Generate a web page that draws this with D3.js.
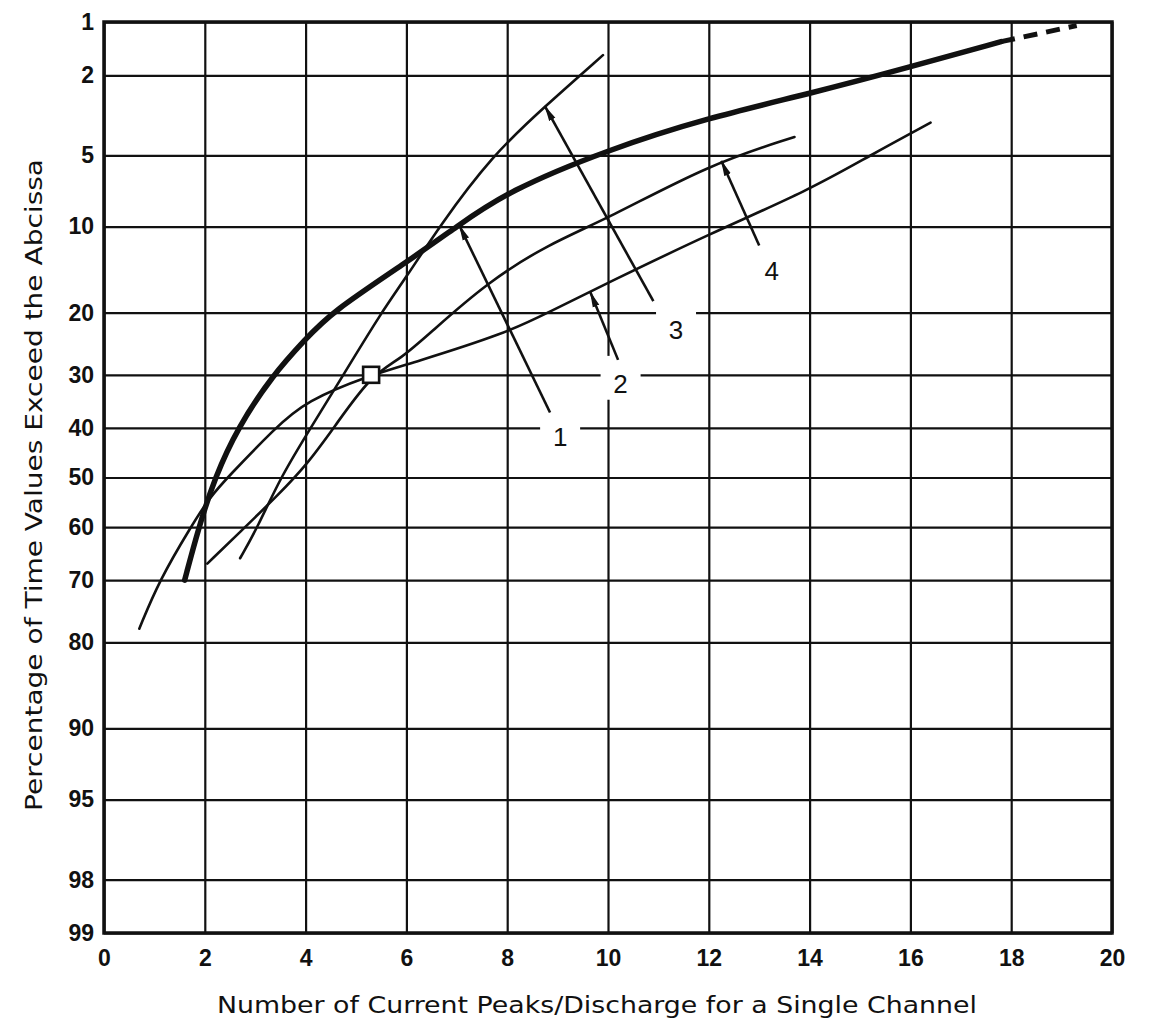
<!DOCTYPE html>
<html>
<head>
<meta charset="utf-8">
<script src="https://cdn.jsdelivr.net/npm/d3@7"></script>
<style>
  body { margin: 0; background: #fff; }
  svg { display: block; }
  .grid line { stroke: #111; stroke-width: 2.2; }
  .grid path { display: none; }
  .grid text { font-family: "Liberation Sans", Arial, sans-serif; font-weight: bold; font-size: 23px; fill: #111; }
  .axis-title { font-family: "DejaVu Sans", sans-serif; font-size: 23px; fill: #111; }
  .curve-label { font-family: "Liberation Sans", Arial, sans-serif; font-size: 26px; fill: #111; }
</style>
</head>
<body>
<div id="chart"></div>
<script>
// --- dati (x = picchi/scarica, p = % di tempo superata) ---
const xTicks = [0, 2, 4, 6, 8, 10, 12, 14, 16, 18, 20];
const pTicks = [1, 2, 5, 10, 20, 30, 40, 50, 60, 70, 80, 90, 95, 98, 99];

// curva 1 (spessa), con prolungamento tratteggiato
const curve1 = [[1.6, 70], [1.88, 60], [2.2, 50], [2.65, 40], [3.35, 30], [4, 24], [4.5, 20],
  [6, 13.6], [7, 10], [8, 7.2], [10, 4.7], [12, 3.3], [14, 2.5], [16, 1.8], [17.8, 1.3]];
const curve1Ext = [[17.8, 1.3], [19.3, 1.05]];
const curve2 = [[0.7, 78], [1.1, 70], [1.72, 60], [2.1, 54], [2.45, 50], [3.4, 40], [4, 34.8],
  [5.3, 30], [6.1, 28], [8, 23], [8.8, 20], [10, 16], [12, 10.7], [14, 7.1], [15.2, 5], [16.4, 3.5]];
const curve3 = [[2.7, 66], [3.05, 60], [3.5, 50], [4.1, 40], [4.75, 30], [5.5, 20], [6, 15.3],
  [6.65, 10], [7.7, 5], [8.75, 2.9], [9.9, 1.55]];
const curve4 = [[2.05, 67], [2.8, 60], [3.45, 53.6], [4, 47.7], [4.56, 40], [5.3, 30], [5.9, 27.2],
  [6.5, 22.8], [7.6, 16], [8.8, 11.7], [10, 9.3], [12, 5.5], [13.7, 4.1]];
const boxPoint = [5.3, 30];

// etichette numerate con freccia
const labelNames = ["1", "2", "3", "4"];
const labelPos = [[9.05, 41.8], [10.25, 31.6], [11.35, 22.6], [13.25, 14.6]];
const arrowTail = [[8.85, 37], [10.2, 27.4], [10.9, 18.4], [13.0, 11.8]];
const arrowHead = [[7.05, 9.9], [9.65, 17.2], [8.75, 2.9], [12.25, 5.3]];

const xTitle = "Number of Current Peaks/Discharge for a Single Channel";
const yTitle = "Percentage of Time Values Exceed the Abcissa";

// --- scala di probabilita' normale (inversa della normale, Acklam) ---
function probit(p) {
  const a = [-3.969683028665376e+01, 2.209460984245205e+02, -2.759285104469687e+02, 1.383577518672690e+02, -3.066479806614716e+01, 2.506628277459239e+00];
  const b = [-5.447609879822406e+01, 1.615858368580409e+02, -1.556989798598866e+02, 6.680131188771972e+01, -1.328068155288572e+01];
  const c = [-7.784894002430293e-03, -3.223964580411365e-01, -2.400758277161838e+00, -2.549732539343734e+00, 4.374664141464968e+00, 2.938163982698783e+00];
  const d = [7.784695709041462e-03, 3.224671290700398e-01, 2.445134137142996e+00, 3.754408661907416e+00];
  const pl = 0.02425;
  let q, r;
  if (p < pl) {
    q = Math.sqrt(-2 * Math.log(p));
    return (((((c[0]*q+c[1])*q+c[2])*q+c[3])*q+c[4])*q+c[5]) / ((((d[0]*q+d[1])*q+d[2])*q+d[3])*q+1);
  }
  if (p > 1 - pl) {
    q = Math.sqrt(-2 * Math.log(1 - p));
    return -(((((c[0]*q+c[1])*q+c[2])*q+c[3])*q+c[4])*q+c[5]) / ((((d[0]*q+d[1])*q+d[2])*q+d[3])*q+1);
  }
  q = p - 0.5; r = q * q;
  return (((((a[0]*r+a[1])*r+a[2])*r+a[3])*r+a[4])*r+a[5])*q / (((((b[0]*r+b[1])*r+b[2])*r+b[3])*r+b[4])*r+1);
}

const width = 1156, height = 1029;
const margin = { top: 22, right: 44, bottom: 96, left: 104 };
const innerW = width - margin.left - margin.right;
const innerH = height - margin.top - margin.bottom;

const svg = d3.select('#chart').append('svg')
  .attr('width', width).attr('height', height);
const g = svg.append('g').attr('transform', `translate(${margin.left},${margin.top})`);

const xScale = d3.scaleLinear().domain([0, 20]).range([0, innerW]);
const zScale = d3.scaleLinear().domain([probit(0.01), probit(0.99)]).range([0, innerH]);
const yOf = p => zScale(probit(p / 100));

// griglia + etichette degli assi
g.append('g').attr('class', 'grid')
  .attr('transform', `translate(0,${innerH})`)
  .call(d3.axisBottom(xScale).tickValues(xTicks).tickSizeInner(-innerH).tickSizeOuter(0).tickPadding(17));

g.append('g').attr('class', 'grid')
  .call(d3.axisLeft(zScale).tickValues(pTicks.map(p => probit(p / 100)))
    .tickFormat((d, i) => pTicks[i]).tickSizeInner(-innerW).tickSizeOuter(0).tickPadding(10));

// cornice
g.append('rect')
  .attr('width', innerW).attr('height', innerH)
  .attr('fill', 'none').attr('stroke', '#111').attr('stroke-width', 3.5);

// interruzioni bianche della griglia dietro le etichette
labelPos.forEach((lp, i) => {
  const lx = xScale(lp[0]), ly = yOf(lp[1]);
  const ty = yOf(arrowTail[i][1]);
  const top = Math.min(ty - 4, ly - 16);
  g.append('rect')
    .attr('x', lx - 20).attr('y', top)
    .attr('width', 40).attr('height', ly + 16 - top)
    .attr('fill', '#fff');
});

// curve lisciate (basis) per togliere le piccole ondulazioni della lettura
const line = d3.line()
  .x(d => xScale(d[0]))
  .y(d => yOf(d[1]))
  .curve(d3.curveBasis);

const thin = [curve2, curve3, curve4];
g.selectAll('.thin-curve').data(thin).enter()
  .append('path').attr('class', 'thin-curve')
  .attr('d', line)
  .attr('fill', 'none').attr('stroke', '#111')
  .attr('stroke-width', 2.6).attr('stroke-linecap', 'round');

g.append('path').attr('d', line(curve1))
  .attr('fill', 'none').attr('stroke', '#111')
  .attr('stroke-width', 5.5).attr('stroke-linecap', 'round').attr('stroke-linejoin', 'round');

g.append('path').attr('d', line(curve1Ext))
  .attr('fill', 'none').attr('stroke', '#111')
  .attr('stroke-width', 5).attr('stroke-dasharray', '14 9');

// quadratino
g.append('rect')
  .attr('x', xScale(boxPoint[0]) - 8).attr('y', yOf(boxPoint[1]) - 8)
  .attr('width', 16).attr('height', 16)
  .attr('fill', '#fff').attr('stroke', '#111').attr('stroke-width', 2.6);

// frecce
svg.append('defs').append('marker')
  .attr('id', 'arrow').attr('markerUnits', 'userSpaceOnUse')
  .attr('viewBox', '0 0 16 8').attr('markerWidth', 16).attr('markerHeight', 8)
  .attr('refX', 15).attr('refY', 4).attr('orient', 'auto')
  .append('path').attr('d', 'M0,0.5 L16,4 L0,7.5 Z').attr('fill', '#111');

arrowTail.forEach((t, i) => {
  g.append('line')
    .attr('x1', xScale(t[0])).attr('y1', yOf(t[1]))
    .attr('x2', xScale(arrowHead[i][0])).attr('y2', yOf(arrowHead[i][1]))
    .attr('stroke', '#111').attr('stroke-width', 2.6)
    .attr('marker-end', 'url(#arrow)');
});

g.selectAll('.curve-label').data(labelNames).enter()
  .append('text').attr('class', 'curve-label')
  .attr('x', (d, i) => xScale(labelPos[i][0]))
  .attr('y', (d, i) => yOf(labelPos[i][1]))
  .attr('text-anchor', 'middle').attr('dominant-baseline', 'central')
  .text(d => d);

// titoli degli assi
svg.append('text').attr('class', 'axis-title')
  .attr('x', 597).attr('y', 1013)
  .attr('text-anchor', 'middle')
  .attr('textLength', 760).attr('lengthAdjust', 'spacingAndGlyphs')
  .text(xTitle);

svg.append('text').attr('class', 'axis-title')
  .attr('transform', 'translate(42,485) rotate(-90)')
  .attr('text-anchor', 'middle')
  .attr('textLength', 652).attr('lengthAdjust', 'spacingAndGlyphs')
  .text(yTitle);
</script>
</body>
</html>
